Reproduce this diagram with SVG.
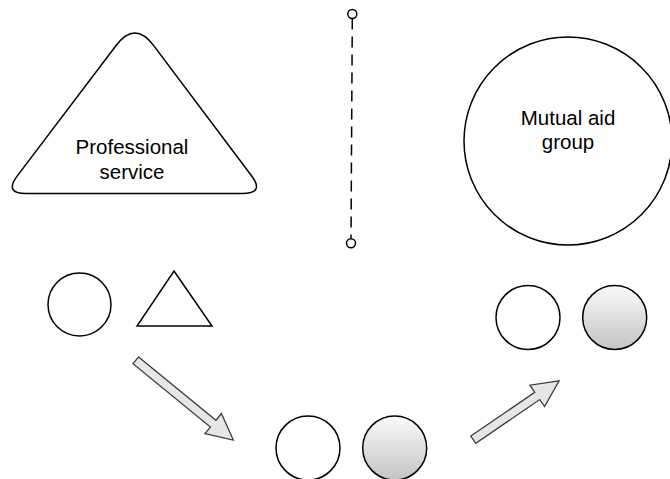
<svg xmlns="http://www.w3.org/2000/svg" width="670" height="479" viewBox="0 0 670 479">
<defs>
<linearGradient id="g" x1="0" y1="0" x2="0" y2="1">
<stop offset="0" stop-color="#fafafa"/>
<stop offset="1" stop-color="#c4c4c4"/>
</linearGradient>
<style>
.s{fill:#fff;stroke:#000;stroke-width:1.5}
.gr{fill:url(#g);stroke:#000;stroke-width:1.5}
.t{font-family:"Liberation Sans",Arial,sans-serif;font-size:20.5px;fill:#000;text-anchor:middle}
.ar{fill:#e6e6e6;stroke:#3c3c3c;stroke-width:1.3;stroke-linejoin:miter}
.d{stroke:#000;stroke-width:1.5;stroke-dasharray:11 7;fill:none}
</style>
</defs>
<rect width="670" height="479" fill="#fff"/>
<g id="professional-service">
<path class="s" d="M115.9,45.7 Q135,20 153.9,45.85 L251.5,175.8 Q265,193.5 242,193.5 L26,193.5 Q4,193.5 17.3,175.9 Z"/>
<text class="t" x="132" y="154">Professional</text>
<text class="t" x="132" y="179">service</text>
</g>
<g id="mutual-aid-group">
<circle class="s" cx="568" cy="141" r="104"/>
<text class="t" x="568" y="124.5">Mutual aid</text>
<text class="t" x="568" y="149">group</text>
</g>
<g id="divider">
<line class="d" x1="352.3" y1="18.5" x2="351" y2="238.8"/>
<circle class="s" cx="352.3" cy="14" r="4.5"/>
<circle class="s" cx="351" cy="243.3" r="4.5"/>
</g>
<g id="start-pair">
<circle class="s" cx="79.5" cy="304.5" r="31.5"/>
<path class="s" d="M174,271 L212,326 L137,326 Z"/>
</g>
<g id="middle-pair">
<circle class="s" cx="308" cy="448" r="32"/>
<circle class="gr" cx="394.7" cy="448" r="32"/>
</g>
<g id="end-pair">
<circle class="s" cx="528" cy="317.5" r="32"/>
<circle class="gr" cx="614.7" cy="317.5" r="32"/>
</g>
<g id="connectors">
<path class="ar" transform="translate(135.8,360.3) rotate(39.3)" d="M0,-4.4 L100,-4.4 L100,-13 L126,0 L100,13 L100,4.4 L0,4.4 Z"/>
<path class="ar" transform="translate(473.3,439.7) rotate(-34.4)" d="M0,-4.4 L77.5,-4.4 L77.5,-13 L104,0 L77.5,13 L77.5,4.4 L0,4.4 Z"/>
</g>
</svg>
